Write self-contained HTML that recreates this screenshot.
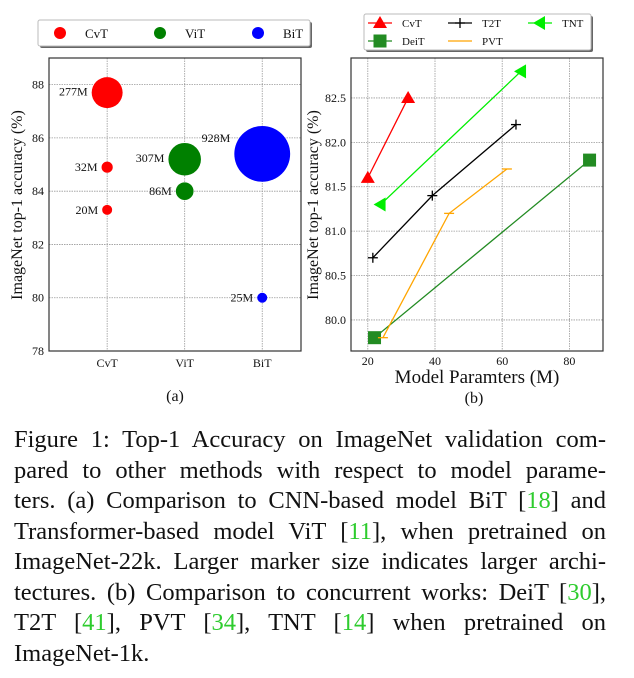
<!DOCTYPE html>
<html><head><meta charset="utf-8"><style>
html,body{margin:0;padding:0;background:#fff;}
body{width:634px;height:678px;overflow:hidden;position:relative;font-family:"Liberation Serif",serif;}
svg text{font-family:"Liberation Serif",serif;}
#caption{position:absolute;left:14px;top:425px;width:592px;font-size:24.5px;line-height:30.5px;color:#111;}
#caption .ln{text-align:justify;text-align-last:justify;white-space:nowrap;}
#caption .last{text-align:left;text-align-last:left;}
#caption .r{color:#2ecc2e;}
</style></head><body>
<svg id="chart" width="634" height="420" xmlns="http://www.w3.org/2000/svg"></svg>
<div id="caption">
<div class="ln">Figure 1: Top-1 Accuracy on ImageNet validation com-</div>
<div class="ln">pared to other methods with respect to model parame-</div>
<div class="ln">ters. (a) Comparison to CNN-based model BiT [<span class="r">18</span>] and</div>
<div class="ln">Transformer-based model ViT [<span class="r">11</span>], when pretrained on</div>
<div class="ln">ImageNet-22k. Larger marker size indicates larger archi-</div>
<div class="ln">tectures. (b) Comparison to concurrent works: DeiT [<span class="r">30</span>],</div>
<div class="ln">T2T [<span class="r">41</span>], PVT [<span class="r">34</span>], TNT [<span class="r">14</span>] when pretrained on</div>
<div class="ln last">ImageNet-1k.</div>
</div>
<script>
// Chart (a) data
const catsA = ["CvT","ViT","BiT"];
const ptCat = [0,0,0,1,1,2,2];
const ptAcc = [87.7,84.9,83.3,85.2,84.0,85.4,80.0];
const ptSize = [277,32,20,307,86,928,25];
const ptLabel = ["277M","32M","20M","307M","86M","928M","25M"];
const ticksA = [78,80,82,84,86,88];
// Chart (b) data
const seriesNames = ["CvT","T2T","TNT","DeiT","PVT"];
const cvtX=[20,32], cvtY=[81.6,82.5];
const t2tX=[21.5,39.2,64.1], t2tY=[80.7,81.4,82.2];
const tntX=[23.8,65.6], tntY=[81.3,82.8];
const deitX=[22,86], deitY=[79.8,81.8];
const pvtX=[24.5,44.2,61.4], pvtY=[79.8,81.2,81.7];
const ticksBx=[20,40,60,80];
const ticksBy=[80.0,80.5,81.0,81.5,82.0,82.5];

const svg=document.getElementById('chart');
const NS="http://www.w3.org/2000/svg";
function mk(t,a,p){const e=document.createElementNS(NS,t);for(const k in a)e.setAttribute(k,a[k]);(p||svg).appendChild(e);return e;}
function tx(x,y,s,size,anchor,p){const e=mk('text',{x:x,y:y,'font-size':size,'text-anchor':anchor||'middle',fill:'#111'},p);e.textContent=s;return e;}

// ---------- Chart (a)
const A={l:49,r:301,t:58,b:351,x0:0.25,x1:3.5,y0:78,y1:89};
const ax=v=>A.l+(v-A.x0)/(A.x1-A.x0)*(A.r-A.l);
const ay=v=>A.b-(v-A.y0)/(A.y1-A.y0)*(A.b-A.t);
const gA=mk('g',{});


ticksA.forEach(v=>{mk('line',{x1:A.l,x2:A.r,y1:ay(v),y2:ay(v),stroke:'#999','stroke-dasharray':'1.5,1','stroke-width':0.8},gA);
 const t=tx(A.l-5,ay(v)+4,String(v),12,'end',gA);});
catsA.forEach((c,i)=>{mk('line',{x1:ax(i+1),x2:ax(i+1),y1:A.t,y2:A.b,stroke:'#999','stroke-dasharray':'1.5,1','stroke-width':0.8},gA);
 const t=tx(ax(i+1),A.b+16,c,12,'middle',gA);});
mk('rect',{x:A.l,y:A.t,width:A.r-A.l,height:A.b-A.t,fill:'none',stroke:'#333','stroke-width':1.2},gA);
const colsA=['#ff0000','#008000','#0000ff'];
ptAcc.forEach((v,i)=>{const r=Math.sqrt(ptSize[i])*0.9+0.5;
 const c=mk('circle',{cx:ax(ptCat[i]+1),cy:ay(v),r:Math.max(5,r),fill:colsA[ptCat[i]]},gA);
 
 
 const lb=tx(ax(ptCat[i]+1)-Math.max(5,r)-4,ay(v)-(ptSize[i]>500?16:ptSize[i]>200?1:0)+4,ptLabel[i],12,'end',gA);
 
 });
const yta=tx(0,0,'ImageNet top-1 accuracy (%)',16,'middle',gA);
yta.setAttribute('transform','translate(22,205) rotate(-90)');


const la=tx(175,401,'(a)',16,'middle',gA);


// legend a
const lgA=mk('g',{},gA);


mk('rect',{x:40,y:22,width:272,height:26,fill:'#666',rx:2},lgA);
mk('rect',{x:38,y:20,width:272,height:26,fill:'#fff',stroke:'#bbb',rx:2},lgA);
[[60,'CvT'],[160,'ViT'],[258,'BiT']].forEach((e,i)=>{const g=mk('g',{},lgA);
 
 
 mk('circle',{cx:e[0],cy:33,r:6,fill:colsA[i]},g);tx(e[0]+25,38,e[1],13,'start',g);});

// ---------- Chart (b)
const B={l:351,r:603,t:58,b:351,x0:15,x1:90,y0:79.65,y1:82.95};
const bx=v=>B.l+(v-B.x0)/(B.x1-B.x0)*(B.r-B.l);
const by=v=>B.b-(v-B.y0)/(B.y1-B.y0)*(B.b-B.t);
const gB=mk('g',{});


ticksBy.forEach(v=>{mk('line',{x1:B.l,x2:B.r,y1:by(v),y2:by(v),stroke:'#999','stroke-dasharray':'1.5,1','stroke-width':0.8},gB);
 const t=tx(B.l-5,by(v)+4,v.toFixed(1),12,'end',gB);});
ticksBx.forEach(v=>{mk('line',{x1:bx(v),x2:bx(v),y1:B.t,y2:B.b,stroke:'#999','stroke-dasharray':'1.5,1','stroke-width':0.8},gB);
 const t=tx(bx(v),B.b+14,String(v),12,'middle',gB);});
mk('rect',{x:B.l,y:B.t,width:B.r-B.l,height:B.b-B.t,fill:'none',stroke:'#333','stroke-width':1.2},gB);
function marker(type,x,y,col,p){
 if(type==='tri')mk('polygon',{points:`${x},${y-7} ${x-7},${y+5} ${x+7},${y+5}`,fill:col},p);
 else if(type==='ltri')mk('polygon',{points:`${x-7},${y} ${x+5},${y-7} ${x+5},${y+7}`,fill:col},p);
 else if(type==='sq')mk('rect',{x:x-6.5,y:y-6.5,width:13,height:13,fill:col},p);
 else if(type==='plus'){mk('line',{x1:x-5,x2:x+5,y1:y,y2:y,stroke:col,'stroke-width':1.3},p);mk('line',{x1:x,x2:x,y1:y-5,y2:y+5,stroke:col,'stroke-width':1.3},p);}
 else if(type==='hline')mk('line',{x1:x-5,x2:x+5,y1:y,y2:y,stroke:col,'stroke-width':1.3},p);
}
const ser=[['DeiT',deitX,deitY,'#228b22','sq'],['PVT',pvtX,pvtY,'#ffa500','hline'],['T2T',t2tX,t2tY,'#000','plus'],['TNT',tntX,tntY,'#00ee00','ltri'],['CvT',cvtX,cvtY,'#ff0000','tri']];
ser.forEach(s=>{const g=mk('g',{},gB);
 
 
 mk('polyline',{points:s[1].map((x,i)=>bx(x)+','+by(s[2][i])).join(' '),fill:'none',stroke:s[3],'stroke-width':1.3},g);
 s[1].forEach((x,i)=>marker(s[4],bx(x),by(s[2][i]),s[3],g));});
const ytb=tx(0,0,'ImageNet top-1 accuracy (%)',16,'middle',gB);
ytb.setAttribute('transform','translate(318,205) rotate(-90)');


const xtb=tx(477,383,'Model Paramters (M)',19,'middle',gB);


const lbb=tx(474,403,'(b)',16,'middle',gB);


const lgB=mk('g',{},gB);


mk('rect',{x:366,y:16,width:227,height:36,fill:'#666',rx:2},lgB);
mk('rect',{x:364,y:14,width:227,height:36,fill:'#fff',stroke:'#bbb',rx:2},lgB);
[[368,23,'CvT','#ff0000','tri'],[448,23,'T2T','#000','plus'],[528,23,'TNT','#00ee00','ltri'],[368,41,'DeiT','#228b22','sq'],[448,41,'PVT','#ffa500','none']].forEach(e=>{
 const g=mk('g',{},lgB);
 
 
 mk('line',{x1:e[0],x2:e[0]+24,y1:e[1],y2:e[1],stroke:e[3],'stroke-width':1.3},g);
 if(e[4]!=='none')marker(e[4],e[0]+12,e[1],e[3],g);
 tx(e[0]+34,e[1]+4,e[2],11,'start',g);});
</script>
</body></html>
